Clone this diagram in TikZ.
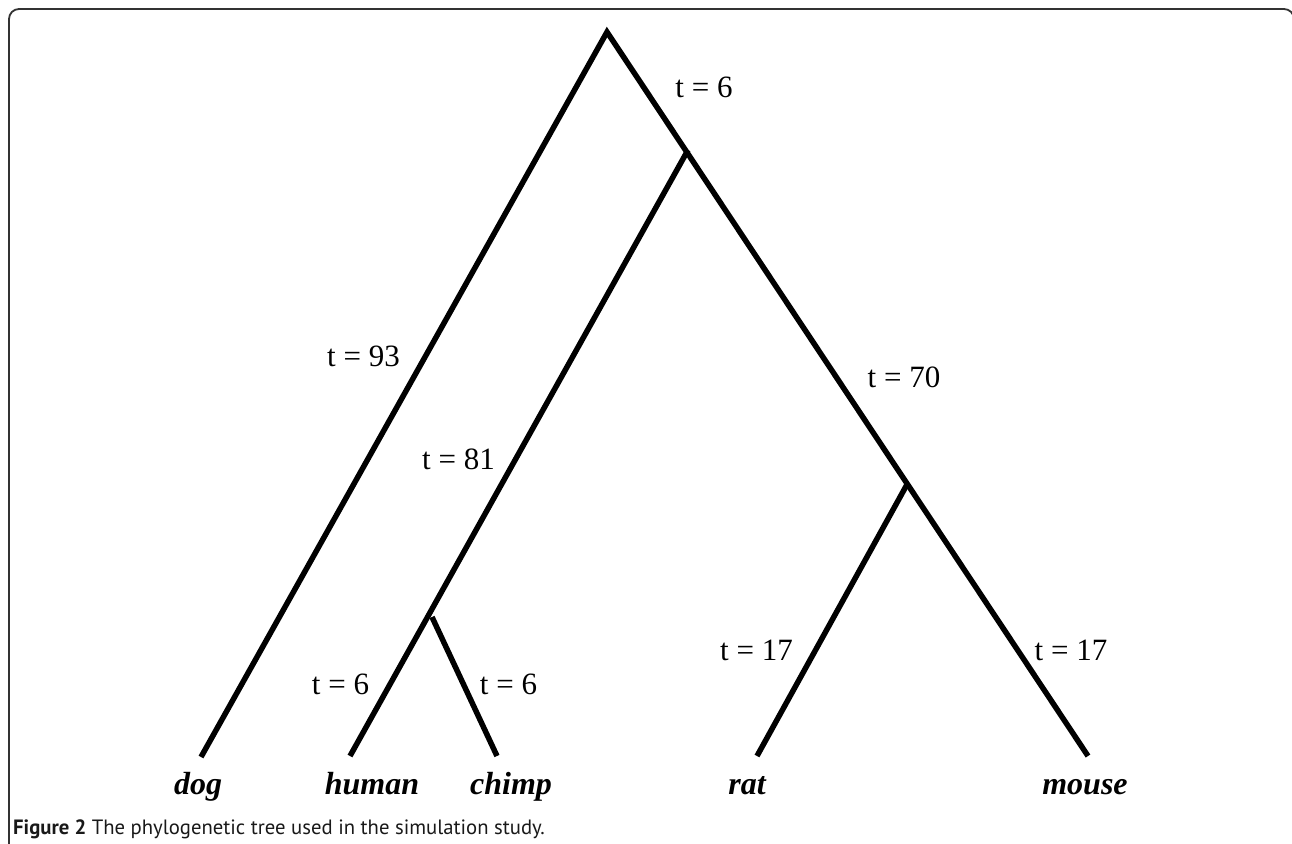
\documentclass[tikz,border=0pt]{standalone}
\usepackage{fontspec}
\setmainfont{Liberation Serif}
\newfontfamily\capfont{PT Sans}
\begin{document}
\begin{tikzpicture}[x=1pt,y=-1pt,
  branch/.style={line width=5.5pt, line join=miter, line cap=butt},
  tlabel/.style={font=\fontsize{31}{31}\selectfont, anchor=base, inner sep=0pt},
  leaf/.style={font=\fontsize{32}{32}\selectfont\bfseries\itshape, anchor=base, inner sep=0pt},
  captext/.style={font=\capfont\fontsize{20.7}{20.7}\selectfont, anchor=base west, inner sep=0pt, text=black!90}]
\useasboundingbox (0,0) rectangle (1292,843);
\begin{scope}
  \clip (0,0) rectangle (1292,843);
  \draw[line width=1.8pt, draw=black!80, rounded corners=10pt] (9,9) rectangle (1294,900);
\end{scope}
% tree points
\coordinate (root) at (607,32);
\coordinate (A) at (688,150);
\coordinate (P) at (432,617);
\coordinate (R) at (907.8,483);
\coordinate (dog) at (201,757);
\coordinate (human) at (350,756);
\coordinate (chimp) at (497,756);
\coordinate (rat) at (757,756);
\coordinate (mouse) at (1088,756);
% branches
\draw[branch] (dog) -- (root) -- (mouse);
\draw[branch] (A) -- (human);
\draw[branch] (P) -- (chimp);
\draw[branch] (R) -- (rat);
% branch labels
\node[tlabel] (l1) at (704,97) {t = 6};
\node[tlabel] (l2) at (363.5,366) {t = 93};
\node[tlabel] (l3) at (458.5,469) {t = 81};
\node[tlabel] (l4) at (904,387) {t = 70};
\node[tlabel] (l5) at (756.5,660) {t = 17};
\node[tlabel] (l6) at (1071,660) {t = 17};
\node[tlabel] (l7) at (340.5,694) {t = 6};
\node[tlabel] (l8) at (508.5,694) {t = 6};
% leaves
\node[leaf] (ndog) at (198,794) {dog};
\node[leaf] (nhuman) at (372,794) {human};
\node[leaf] (nchimp) at (511,794) {chimp};
\node[leaf] (nrat) at (747,794) {rat};
\node[leaf] (nmouse) at (1085,794) {mouse};
% caption
\node[captext] (cap) at (13,834) {{\bfseries Figure 2} The phylogenetic tree used in the simulation study.};
\end{tikzpicture}
\end{document}
